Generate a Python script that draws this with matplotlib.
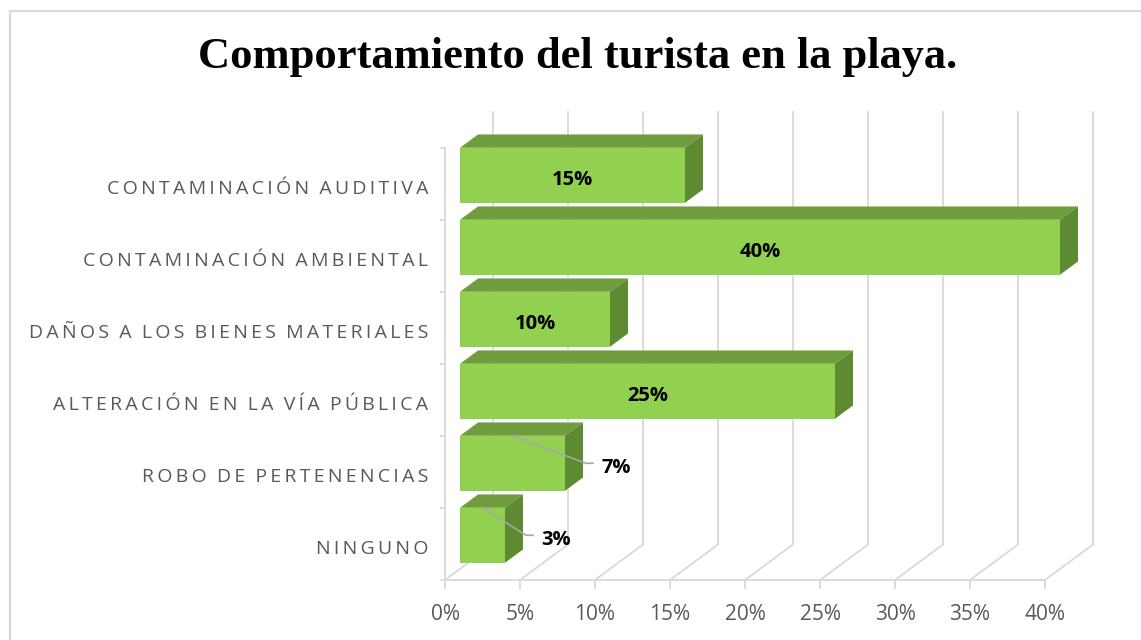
import matplotlib.pyplot as plt
from matplotlib.patches import Polygon
from matplotlib.lines import Line2D

# datos (de abajo hacia arriba)
categorias = ['NINGUNO', 'ROBO DE PERTENENCIAS', 'ALTERACIÓN EN LA VÍA PÚBLICA',
              'DAÑOS A LOS BIENES MATERIALES', 'CONTAMINACIÓN AMBIENTAL',
              'CONTAMINACIÓN AUDITIVA']
valores = [3, 7, 25, 10, 40, 15]
ticks_x = [0, 5, 10, 15, 20, 25, 30, 35, 40]
titulo = 'Comportamiento del turista en la playa.'

W, H = 1141, 640
PX = 15.0   # px por 1 %
PY = 72.0   # px por categoria
X0, Y0 = 445, 580   # origen en pixeles

verde = '#92D050'
verde_top = '#6F9D3D'
verde_lado = '#5E8A31'
gris = '#D9D9D9'
texto = '#595959'
fuente = ['Open Sans', 'DejaVu Sans']


def prof(d):
    # desplazamiento oblicuo (d en px) a unidades de datos
    return d / PX, 0.74 * d / PY


fig = plt.figure(figsize=(W / 100, H / 100), dpi=100)
ax = fig.add_axes([0, 0, 1, 1])
ax.set_xlim(-X0 / PX, (W - X0) / PX)
ax.set_ylim(-(H - Y0) / PY, Y0 / PY)
ax.axis('off')

# borde del area del grafico
fig.add_artist(Line2D([10 / W, 10 / W], [0, 1 - 11 / H], color=gris, lw=1.6))
fig.add_artist(Line2D([10 / W, 1], [1 - 11 / H, 1 - 11 / H], color=gris, lw=1.6))

n = len(categorias)
xmax = ticks_x[-1]
bx, by = prof(48)

# pared trasera, piso y ejes
for t in ticks_x:
    ax.plot([t + bx, t + bx], [by, n + by], color=gris, lw=1.3, zorder=1)
    ax.plot([t, t + bx], [0, by], color=gris, lw=1.3, zorder=1)
    ax.plot([t, t], [0, -8 / PY], color=gris, lw=1.3, zorder=1)
    ax.text(t, -40 / PY, f'{t}%', ha='center', va='baseline', fontsize=15,
            color=texto, family=fuente)
ax.plot([0, xmax], [0, 0], color=gris, lw=1.3, zorder=1)
ax.plot([0, 0], [0, n], color=gris, lw=1.3, zorder=1)
for i in range(n + 1):
    ax.plot([-4 / PX, 0], [i, i], color=gris, lw=1.3, zorder=1)

# barras 3D
fx, fy = prof(15)
dx, dy = prof(18)
alto = 55 / PY
for i, (cat, v) in enumerate(zip(categorias, valores)):
    y0 = i + 0.085 + fy
    y1 = y0 + alto
    x0 = fx
    x1 = fx + v
    frente = Polygon([(x0, y0), (x1, y0), (x1, y1), (x0, y1)], closed=True,
                     fc=verde, ec='none', zorder=3)
    arriba = Polygon([(x0, y1), (x1, y1), (x1 + dx, y1 + dy), (x0 + dx, y1 + dy)],
                     closed=True, fc=verde_top, ec='none', zorder=3)
    lado = Polygon([(x1, y0), (x1 + dx, y0 + dy), (x1 + dx, y1 + dy), (x1, y1)],
                   closed=True, fc=verde_lado, ec='none', zorder=3)
    for p in (frente, arriba, lado):
        ax.add_patch(p)

    yc = (y0 + y1) / 2
    if v >= 10:
        ax.text(x0 + v / 2, yc - 10 / PY, f'{v}%', ha='center', va='baseline',
                fontsize=14.5, fontweight='bold', color='black', zorder=5,
                family=fuente)
    else:
        ex = v + 2.4
        ax.plot([x0 + v / 2, ex, ex + 7 / PX], [y1, yc, yc], color='#A6A6A6',
                lw=1.2, zorder=4)
        ax.text(ex + 15 / PX, yc - 10 / PY, f'{v}%', ha='left', va='baseline',
                fontsize=14.5, fontweight='bold', color='black', zorder=5,
                family=fuente)

    # etiqueta de categoria con espaciado entre letras
    espaciada = '\u2009'.join(cat).replace('\u2009 \u2009', '  ')
    ax.text(-17 / PX, i + 0.5 - 10 / PY, espaciada, ha='right', va='baseline',
            fontsize=14, color=texto, family=fuente)

fig.text(578 / W, 1 - 68 / H, titulo, ha='center', va='baseline', fontsize=32,
         fontweight='bold', family='Liberation Serif', color='black')

fig.savefig('out.png', dpi=100)
